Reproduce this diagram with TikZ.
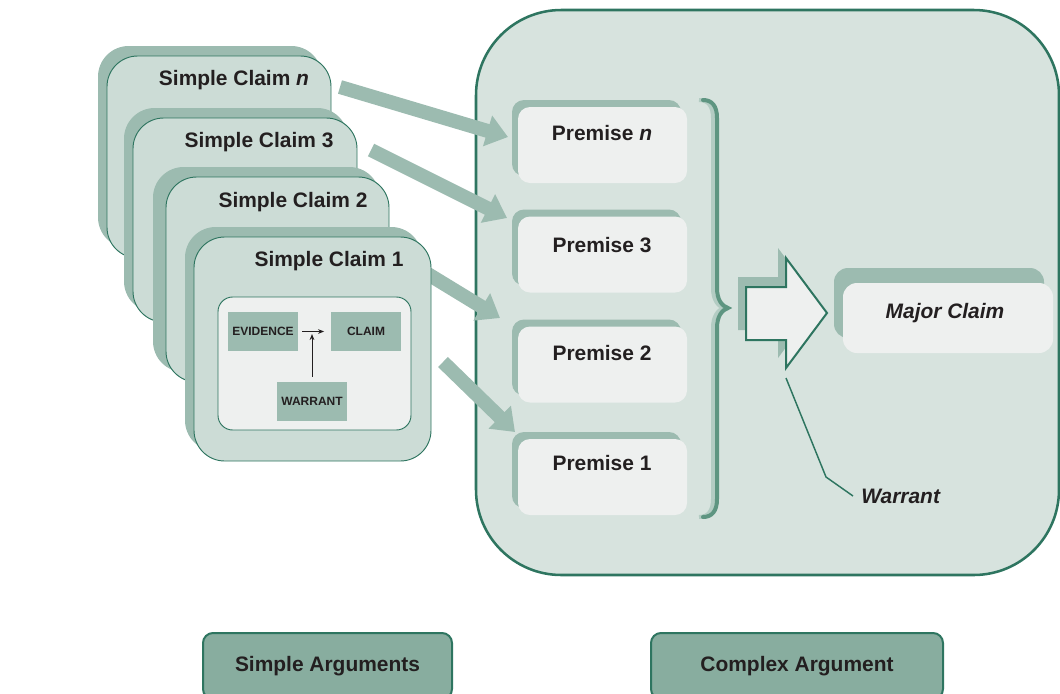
\documentclass[tikz,border=0pt]{standalone}
\usepackage{fontspec}
\setmainfont{Liberation Sans}
\usetikzlibrary{arrows.meta,shadows}

\definecolor{ink}{HTML}{231F20}
\definecolor{edge}{HTML}{2E7560}
\definecolor{panel}{HTML}{D7E3DE}
\definecolor{cardfill}{HTML}{CCDCD6}
\definecolor{shade}{HTML}{9CBBB0}
\definecolor{paper}{HTML}{EEF0EF}
\definecolor{tabfill}{HTML}{88AD9F}
\definecolor{bracedark}{HTML}{5E9581}
\definecolor{bracelight}{HTML}{B3CCC3}

\tikzset{
  title/.style={font=\fontsize{15.7}{18}\selectfont\bfseries,text=ink,inner sep=0pt},
  tag/.style={font=\fontsize{9}{11}\selectfont\bfseries,text=ink,fill=shade,
    minimum width=52.5pt,minimum height=29.25pt,inner sep=0pt},
  claimcard/.style={draw=edge,line width=0.7pt,fill=cardfill,rounded corners=23pt,inner sep=0pt,
    general shadow={fill=shade,shadow xshift=-6.75pt,shadow yshift=7.5pt}},
  premise/.style={fill=paper,rounded corners=9pt,minimum width=126.75pt,minimum height=57pt,inner sep=0pt,
    general shadow={fill=shade,shadow xshift=-4.5pt,shadow yshift=5.25pt}},
  feed/.style={draw=shade,line width=10.5pt,-{Triangle[width=23pt,length=16pt]}},
  link/.style={draw=ink,line width=0.75pt,-{Stealth[length=4.5pt,width=3.5pt]}},
  tab/.style={draw=edge,line width=1.5pt,fill=tabfill,rounded corners=7.5pt,minimum height=49.5pt,inner sep=0pt,
    font=\fontsize{15.7}{18}\selectfont\bfseries,text=ink}
}

\begin{document}
\begin{tikzpicture}[x=0.75pt,y=-0.75pt]
  \useasboundingbox (0,0) rectangle (1060,693);
  \clip (0,0) rectangle (1060,693);
  %\draw[help lines,step=50] (0,0) grid (1060,693);

  % complex argument panel
  \node[draw=edge,line width=1.9pt,fill=panel,rounded corners=64pt,
    minimum width=437.25pt,minimum height=423.75pt] (complex) at (767.5,292.5) {};

  % feeds from simple claims to premises
  \coordinate (srcn) at (340,87);  \coordinate (tipn) at (508,137);
  \coordinate (src3) at (371,150); \coordinate (tip3) at (507,218);
  \coordinate (src2) at (400,257); \coordinate (tip2) at (500,318);
  \coordinate (src1) at (443,362); \coordinate (tip1) at (515,432);
  \draw[feed] (srcn) -- (tipn);
  \draw[feed] (src3) -- (tip3);
  \draw[feed] (src2) -- (tip2);
  \draw[feed] (src1) -- (tip1);

  % premises
  \node[premise] (pn) at (602.5,145) {};
  \node[premise] (p3) at (602.5,254.5) {};
  \node[premise] (p2) at (602.5,364.5) {};
  \node[premise] (p1) at (602.5,477) {};
  \node[title] (pnt) at (602,133) {Premise \textit{n}};
  \node[title] (p3t) at (602,245) {Premise 3};
  \node[title] (p2t) at (602,353) {Premise 2};
  \node[title] (p1t) at (602,463) {Premise 1};

  % brace
  \draw[bracedark,line width=3pt,line cap=round,
    preaction={draw=bracelight,line width=3pt,transform canvas={xshift=-3pt}}]
    (703,100) .. controls (712,100) and (717,106) .. (717,118) -- (717,288)
    .. controls (717,300) and (722,306) .. (728,308)
    .. controls (722,310) and (717,316) .. (717,328) -- (717,499)
    .. controls (717,511) and (712,517) .. (703,517);

  % inference arrow
  \draw[edge,line width=1.5pt,fill=paper,
    preaction={fill=shade,transform canvas={shift={(-6pt,7.5pt)}}}]
    (746,287) -- (786,287) -- (786,258) -- (827,313) -- (786,368) -- (786,340) -- (746,340) -- cycle;

  % major claim
  \node[fill=paper,rounded corners=10.5pt,minimum width=157.5pt,minimum height=52.5pt,inner sep=0pt,
    general shadow={fill=shade,shadow xshift=-6.75pt,shadow yshift=11.25pt}] (major) at (948,318) {};
  \node[title] (majort) at (945,313) {\itshape Major Claim};

  % warrant callout
  \node[title,anchor=west] (warrant) at (861,496) {\itshape Warrant};
  \coordinate (wtop) at (786,378);
  \draw[edge,line width=1.1pt] (wtop) -- (826,477) -- ([xshift=-6pt]warrant.west);

  % simple claims
  \node[claimcard,minimum width=168pt,minimum height=151.5pt] (cn) at (219,157) {};
  \node[title] (cnt) at (234,80) {Simple Claim \textit{n}};
  \node[claimcard,minimum width=168pt,minimum height=153pt] (c3) at (245,220) {};
  \node[title] (c3t) at (259,142) {Simple Claim 3};
  \node[claimcard,minimum width=167.25pt,minimum height=153.75pt,
    general shadow={fill=shade,shadow xshift=-9.75pt,shadow yshift=7.5pt}] (c2) at (277.5,279.5) {};
  \node[title] (c2t) at (293,202) {Simple Claim 2};
  \node[claimcard,minimum width=177.75pt,minimum height=168pt] (c1) at (312.5,349) {};
  \node[title] (c1t) at (329,261) {Simple Claim 1};

  % toulmin inset
  \node[draw=edge,line width=0.7pt,fill=paper,rounded corners=11pt,
    minimum width=144.75pt,minimum height=99.75pt] (inset) at (314.5,363.5) {};
  \node[tag] (ev) at (263,331.5) {EVIDENCE};
  \node[tag] (cl) at (366,331.5) {CLAIM};
  \node[tag] (wa) at (312,401.5) {WARRANT};
  \coordinate (join) at (312,334);
  \draw[link,shorten <=3pt,shorten >=5pt] (ev.east) -- (cl.west);
  \draw[link,shorten <=3.75pt] (wa.north) -- (join);

  % captions
  \node[tab,minimum width=186.75pt] (simplecap) at (327.5,666) {Simple Arguments};
  \node[tab,minimum width=219pt] (complexcap) at (797,666) {Complex Argument};
\end{tikzpicture}
\end{document}
